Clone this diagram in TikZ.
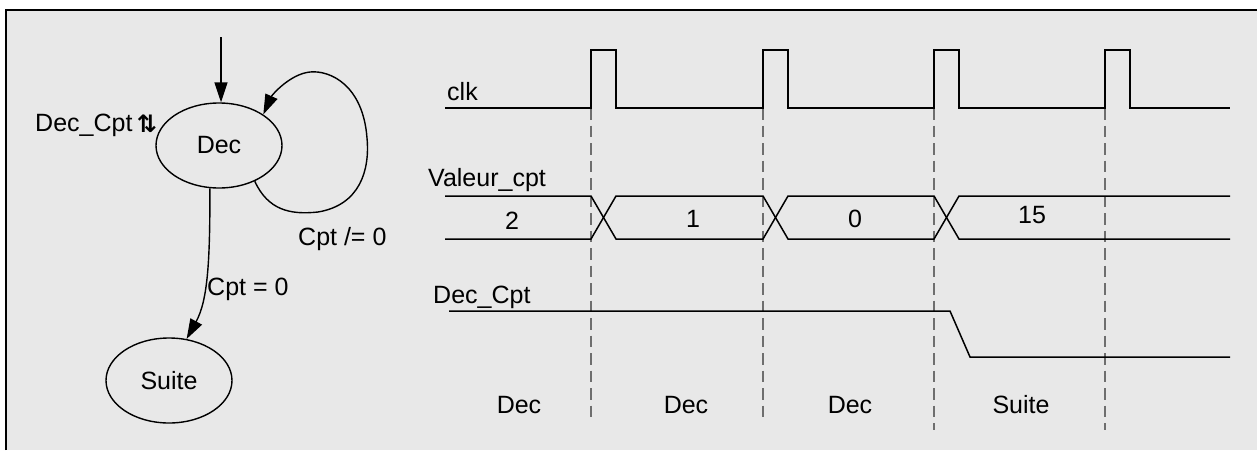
\documentclass[tikz,border=0pt]{standalone}
\usepackage{fontspec}
\setmainfont{Liberation Sans}
\newfontfamily\symfont{DejaVu Sans Bold}
\usetikzlibrary{shapes.geometric,arrows.meta}
\definecolor{panel}{RGB}{232,232,232}
\definecolor{guide}{RGB}{110,110,110}
\begin{document}
\begin{tikzpicture}[x=1pt,y=-1pt,
  every node/.style={font=\fontsize{25}{30}\selectfont, inner sep=0pt},
  state/.style={ellipse, draw, line width=1.4pt, minimum width=126pt, minimum height=85pt},
  trans/.style={line width=1.4pt, -{Triangle[length=20pt,width=13pt]}},
  wave/.style={line width=1.5pt, line join=miter},
  guideline/.style={draw=guide, line width=1.4pt, dash pattern=on 11.5pt off 6pt},
  lbl/.style={anchor=base west},
  val/.style={anchor=base},
]
\useasboundingbox (0,0) rectangle (1257,450);
% panel and frame
\fill[panel] (6,10) rectangle (1257,450);
\draw[line width=2pt] (6,450) -- (6,10) -- (1257,10);

% ---- state machine ----
\node[state] (dec) at (219,145.5) {Dec};
\node[state] (suite) at (169,380.5) {Suite};
\coordinate (init) at (221,37);
\draw[trans] (init) -- (init |- dec.north);
\draw[trans] (dec.-45) .. controls (268,210) and (290,215) .. (318,212)
  .. controls (360,205) and (370,170) .. (367,138)
  .. controls (363,85) and (330,70) .. (310,72)
  .. controls (290,74) and (272,95) .. (dec.35);
\node[lbl] (neq) at (298,245) {Cpt /= 0};
\draw[trans] (dec.258) .. controls (210,260) and (208,300) .. (suite.67);
\node[lbl] (eq) at (207,295) {Cpt = 0};
\node[lbl] (act) at (35,131) {Dec\_Cpt};
\node[anchor=base west, font=\symfont\fontsize{24}{28}\selectfont] (actsym) at ([xshift=4pt,yshift=-1pt]act.base east) {⇅};

% ---- timing diagram ----
\foreach \x/\yend in {591/420, 763/420, 934/430, 1105/430}
  \draw[guideline] (\x,108) -- (\x,\yend);

\node[lbl] (clk) at (447,100) {clk};
\draw[wave] (445,108) -| (591,50) -| (616,108) -| (763,50) -| (788,108)
  -| (934,50) -| (959,108) -| (1105,50) -| (1130,108) -- (1230,108);

\node[lbl] (valeur) at (428,186) {Valeur\_cpt};
\draw[wave] (445,196) -- (591,196) -- (616,239) -- (763,239) -- (788,196)
  -- (934,196) -- (959,239) -- (1230,239);
\draw[wave] (445,239) -- (591,239) -- (616,196) -- (763,196) -- (788,239)
  -- (934,239) -- (959,196) -- (1230,196);
\node[val] (v2) at (512,229) {2};
\node[val] (v1) at (693,227) {1};
\node[val] (v0) at (855,227) {0};
\node[val] (v15) at (1032,223) {15};

\node[lbl] (deccpt) at (433,303) {Dec\_Cpt};
\draw[wave] (449,311) -- (950,311) -- (970,357) -- (1230,357);

\node[val] (s1) at (519,413) {Dec};
\node[val] (s2) at (686,413) {Dec};
\node[val] (s3) at (850,413) {Dec};
\node[val] (s4) at (1021,413) {Suite};
\end{tikzpicture}
\end{document}
